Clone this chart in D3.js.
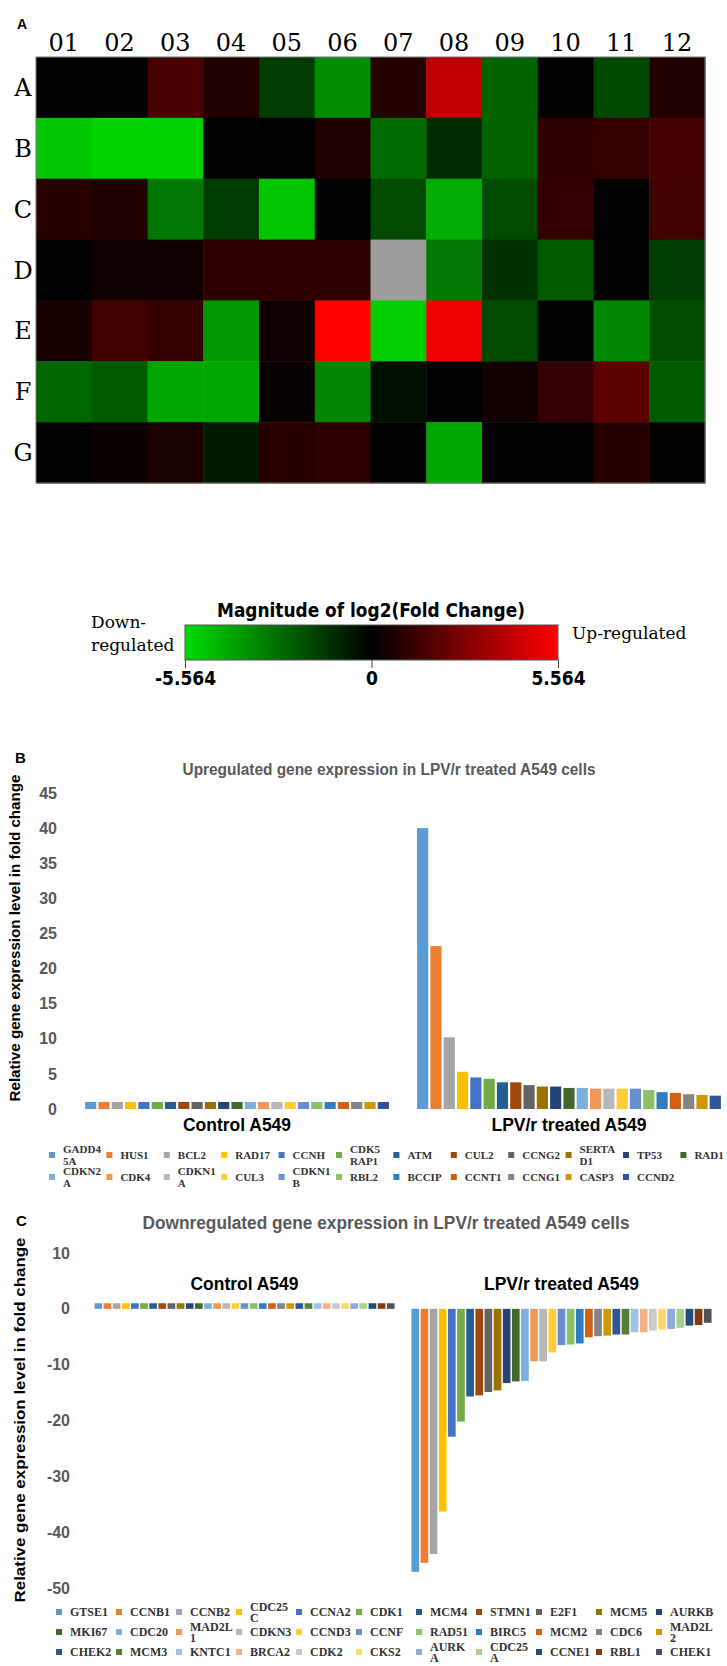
<!DOCTYPE html>
<html>
<head>
<meta charset="utf-8">
<script src="https://d3js.org/d3.v7.min.js"></script>
<style>
  html, body { margin: 0; padding: 0; background: #fff; }
  svg { display: block; }
</style>
</head>
<body>
<div id="chart"></div>
<script>
// ---- Panel A: heatmap data (log2 fold change, null = no data) ----
const heatRows = ["A", "B", "C", "D", "E", "F", "G"];
const heatCols = ["01", "02", "03", "04", "05", "06", "07", "08", "09", "10", "11", "12"];
const heatValues = [
  [0, 0, 1.6, 0.7, -1.5, -3.6, 0.8, 4.2, -2.5, 0.05, -1.8, 0.7],
  [-5.0, -5.3, -5.3, 0, 0, 0.7, -2.7, -1.1, -2.5, 1.0, 1.2, 1.5],
  [0.9, 0.7, -3.0, -1.5, -5.0, 0, -1.9, -4.4, -1.9, 1.1, 0.05, 1.4],
  [0, 0.3, 0.35, 1.0, 1.0, 1.0, null, -3.0, -1.3, -2.3, 0.05, -1.5],
  [0.5, 1.4, 1.2, -3.8, 0.3, 5.564, -5.2, 5.2, -1.9, 0, -3.4, -1.9],
  [-2.6, -2.3, -4.2, -4.2, 0.15, -3.4, -0.4, 0, 0.4, 1.1, 2.0, -2.3],
  [0, 0.2, 0.6, -0.7, 0.9, 1.0, 0, -4.2, 0, 0, 0.9, 0]
];
const colorbarTicks = [-5.564, 0, 5.564];

// ---- Panel B: upregulated genes ----
const groups = ["Control A549", "LPV/r treated A549"];
const upGenes = ["GADD45A", "HUS1", "BCL2", "RAD17", "CCNH", "CDK5RAP1", "ATM", "CUL2", "CCNG2", "SERTAD1", "TP53", "RAD1",
  "CDKN2A", "CDK4", "CDKN1A", "CUL3", "CDKN1B", "RBL2", "BCCIP", "CCNT1", "CCNG1", "CASP3", "CCND2"];
const upLegend = ["GADD4\n5A", "HUS1", "BCL2", "RAD17", "CCNH", "CDK5\nRAP1", "ATM", "CUL2", "CCNG2", "SERTA\nD1", "TP53", "RAD1",
  "CDKN2\nA", "CDK4", "CDKN1\nA", "CUL3", "CDKN1\nB", "RBL2", "BCCIP", "CCNT1", "CCNG1", "CASP3", "CCND2"];
const upControl = [1, 1, 1, 1, 1, 1, 1, 1, 1, 1, 1, 1, 1, 1, 1, 1, 1, 1, 1, 1, 1, 1, 1];
const upTreated = [40.0, 23.2, 10.2, 5.3, 4.5, 4.3, 3.8, 3.8, 3.4, 3.2, 3.2, 3.0, 3.0, 2.9, 2.9, 2.9, 2.9, 2.7, 2.4, 2.3, 2.1, 2.0, 1.9];
const upTicks = [0, 5, 10, 15, 20, 25, 30, 35, 40, 45];

// ---- Panel C: downregulated genes ----
const downGenes = ["GTSE1", "CCNB1", "CCNB2", "CDC25C", "CCNA2", "CDK1", "MCM4", "STMN1", "E2F1", "MCM5", "AURKB",
  "MKI67", "CDC20", "MAD2L1", "CDKN3", "CCND3", "CCNF", "RAD51", "BIRC5", "MCM2", "CDC6", "MAD2L2",
  "CHEK2", "MCM3", "KNTC1", "BRCA2", "CDK2", "CKS2", "AURKA", "CDC25A", "CCNE1", "RBL1", "CHEK1"];
const downLegend = ["GTSE1", "CCNB1", "CCNB2", "CDC25\nC", "CCNA2", "CDK1", "MCM4", "STMN1", "E2F1", "MCM5", "AURKB",
  "MKI67", "CDC20", "MAD2L\n1", "CDKN3", "CCND3", "CCNF", "RAD51", "BIRC5", "MCM2", "CDC6", "MAD2L\n2",
  "CHEK2", "MCM3", "KNTC1", "BRCA2", "CDK2", "CKS2", "AURK\nA", "CDC25\nA", "CCNE1", "RBL1", "CHEK1"];
const downControl = [1, 1, 1, 1, 1, 1, 1, 1, 1, 1, 1, 1, 1, 1, 1, 1, 1, 1, 1, 1, 1, 1, 1, 1, 1, 1, 1, 1, 1, 1, 1, 1, 1];
const downTreated = [-47.1, -45.5, -43.9, -36.3, -22.9, -20.2, -15.7, -15.5, -14.9, -14.6, -13.3, -13.0, -12.9, -9.4, -9.4,
  -7.8, -6.5, -6.4, -6.2, -5.1, -4.9, -4.8, -4.6, -4.6, -4.2, -4.2, -3.9, -3.7, -3.6, -3.4, -3.0, -2.9, -2.5];
const downTicks = [10, 0, -10, -20, -30, -40, -50];

// Excel-like series colours
const palette = ["#5B9BD5", "#ED7D31", "#A5A5A5", "#FFC000", "#4472C4", "#70AD47", "#255E91", "#9E480E", "#636363",
  "#997300", "#264478", "#43682B", "#7CAFDD", "#F1975A", "#B7B7B7", "#FFCD33", "#698ED0", "#8CC168", "#327DC2",
  "#D26012", "#848484", "#CC9A00", "#2F5597", "#548235", "#9DC3E6", "#F4B183", "#C9C9C9", "#FFD966", "#8FAADC",
  "#A9D18E", "#1F4E79", "#843C0C", "#525252"];

const sansNarrow = '"Liberation Sans Narrow", "Liberation Sans", Arial, sans-serif';

const svg = d3.select("#chart").append("svg")
  .attr("width", 727)
  .attr("height", 1666);

// ================= Panel A =================
svg.append("text")
  .attr("x", 17).attr("y", 29)
  .style("font-family", "Liberation Sans, Arial, sans-serif")
  .style("font-weight", "bold").style("font-size", "14px")
  .text("A");

const hx = d3.scaleBand().domain(heatCols).range([36, 705]);
const hy = d3.scaleBand().domain(heatRows).range([57, 483]);
const heatColor = d3.scaleLinear()
  .domain([-5.564, 0, 5.564])
  .range(["#00dc00", "#000000", "#ff0000"])
  .clamp(true);

const cells = [];
heatValues.forEach((row, i) => row.forEach((v, j) => cells.push({row: heatRows[i], col: heatCols[j], v: v})));

svg.append("g").selectAll("rect")
  .data(cells)
  .join("rect")
  .attr("x", d => hx(d.col))
  .attr("y", d => hy(d.row))
  .attr("width", hx.bandwidth() + 0.5)
  .attr("height", hy.bandwidth() + 0.5)
  .attr("fill", d => d.v === null ? "#9c9c9c" : heatColor(d.v));

svg.append("rect")
  .attr("x", 36).attr("y", 57)
  .attr("width", 669).attr("height", 426)
  .attr("fill", "none")
  .attr("stroke", "#777").attr("stroke-width", 1);

svg.append("g").selectAll("text")
  .data(heatCols)
  .join("text")
  .attr("x", d => hx(d) + hx.bandwidth() / 2)
  .attr("y", 51)
  .attr("text-anchor", "middle")
  .style("font-family", "DejaVu Serif, serif")
  .style("font-size", "24px")
  .text(d => d);

svg.append("g").selectAll("text")
  .data(heatRows)
  .join("text")
  .attr("x", 23)
  .attr("y", d => hy(d) + hy.bandwidth() / 2)
  .attr("dy", "0.36em")
  .attr("text-anchor", "middle")
  .style("font-family", "DejaVu Serif, serif")
  .style("font-size", "24px")
  .text(d => d);

// colour bar
const cbx = d3.scaleLinear().domain([-5.564, 5.564]).range([185, 558]);
const grad = svg.append("defs").append("linearGradient")
  .attr("id", "cbGrad").attr("x1", "0%").attr("x2", "100%");
d3.range(0, 1.0001, 0.1).forEach(t => {
  grad.append("stop")
    .attr("offset", (t * 100) + "%")
    .attr("stop-color", heatColor(-5.564 + t * 11.128));
});

svg.append("text")
  .attr("x", 371).attr("y", 617)
  .attr("text-anchor", "middle")
  .attr("textLength", 308).attr("lengthAdjust", "spacingAndGlyphs")
  .style("font-family", '"DejaVu Sans Condensed", "DejaVu Sans", sans-serif')
  .style("font-weight", "bold").style("font-size", "19px")
  .text("Magnitude of log2(Fold Change)");

svg.append("rect")
  .attr("x", 185).attr("y", 625)
  .attr("width", 373).attr("height", 35)
  .attr("fill", "url(#cbGrad)")
  .attr("stroke", "#555").attr("stroke-width", 1);

const cbAxis = svg.append("g")
  .attr("transform", "translate(0,660)")
  .call(d3.axisBottom(cbx).tickValues(colorbarTicks).tickSize(8).tickPadding(4).tickFormat(d => String(d)));
cbAxis.select(".domain").remove();
cbAxis.selectAll("line").attr("stroke", "#444");
cbAxis.selectAll("text")
  .attr("fill", "#000")
  .style("font-family", '"DejaVu Sans Condensed", "DejaVu Sans", sans-serif')
  .style("font-weight", "bold").style("font-size", "19px");

svg.append("text")
  .attr("x", 91).attr("y", 628)
  .style("font-family", "DejaVu Serif, serif").style("font-size", "17px")
  .text("Down-");
svg.append("text")
  .attr("x", 91).attr("y", 651)
  .style("font-family", "DejaVu Serif, serif").style("font-size", "17px")
  .text("regulated");
svg.append("text")
  .attr("x", 572).attr("y", 639)
  .style("font-family", "DejaVu Serif, serif").style("font-size", "17px")
  .text("Up-regulated");

// ================= Bar panels =================
function drawBarPanel(opt) {
  const g = svg.append("g");

  const y = d3.scaleLinear().domain(opt.yDomain).range(opt.yRange);
  const x0 = d3.scaleBand().domain(groups).range(opt.xRange).paddingInner(opt.groupGap);
  const x1 = d3.scaleBand().domain(opt.genes).range([0, x0.bandwidth()]).padding(0.16);

  // panel letter
  g.append("text")
    .attr("x", opt.letterPos[0]).attr("y", opt.letterPos[1])
    .style("font-family", "Liberation Sans, Arial, sans-serif")
    .style("font-weight", "bold").style("font-size", "15px")
    .text(opt.letter);

  // title
  g.append("text")
    .attr("x", opt.titlePos[0]).attr("y", opt.titlePos[1])
    .attr("text-anchor", "middle")
    .attr("textLength", opt.titleLen).attr("lengthAdjust", "spacingAndGlyphs")
    .style("font-family", sansNarrow)
    .style("font-weight", "bold").style("font-size", opt.titleSize + "px")
    .style("fill", "#595959")
    .text(opt.title);

  // y axis (labels only)
  const yAxis = g.append("g")
    .attr("transform", `translate(${opt.axisX},0)`)
    .call(d3.axisLeft(y).tickValues(opt.ticks).tickSize(0).tickPadding(0).tickFormat(d => String(d)));
  yAxis.select(".domain").remove();
  yAxis.selectAll("text")
    .attr("fill", "#595959")
    .style("font-family", sansNarrow)
    .style("font-weight", "bold").style("font-size", "16px");

  g.append("text")
    .attr("transform", `translate(${opt.yTitlePos[0]},${opt.yTitlePos[1]}) rotate(-90)`)
    .attr("text-anchor", "middle")
    .attr("dy", "0.35em")
    .attr("textLength", opt.yTitleLen).attr("lengthAdjust", "spacingAndGlyphs")
    .style("font-family", "Liberation Sans, Arial, sans-serif")
    .style("font-weight", "bold").style("font-size", "14px")
    .text("Relative gene expression level in fold change");

  // bars
  const bars = [];
  opt.genes.forEach((gene, i) => {
    bars.push({group: groups[0], gene: gene, v: opt.control[i], c: palette[i]});
    bars.push({group: groups[1], gene: gene, v: opt.treated[i], c: palette[i]});
  });
  g.append("g").selectAll("rect")
    .data(bars)
    .join("rect")
    .attr("x", d => x0(d.group) + x1(d.gene))
    .attr("y", d => y(Math.max(0, d.v)))
    .attr("width", x1.bandwidth())
    .attr("height", d => Math.abs(y(d.v) - y(0)))
    .attr("fill", d => d.c);

  // group labels
  g.append("g").selectAll("text")
    .data(groups)
    .join("text")
    .attr("x", d => x0(d) + x0.bandwidth() / 2)
    .attr("y", opt.groupLabelY)
    .attr("text-anchor", "middle")
    .attr("textLength", d => d === groups[0] ? 108 : 155)
    .attr("lengthAdjust", "spacingAndGlyphs")
    .style("font-family", sansNarrow)
    .style("font-weight", "bold").style("font-size", "18px")
    .text(d => d);

  // legend
  const lg = opt.legend;
  const items = g.append("g").selectAll("g")
    .data(opt.labels)
    .join("g")
    .attr("transform", (d, i) => `translate(${lg.x0 + (i % lg.perRow) * lg.step},${lg.y0 + Math.floor(i / lg.perRow) * lg.rowStep})`);
  items.append("rect")
    .attr("x", 0).attr("y", -3)
    .attr("width", 6).attr("height", 6)
    .attr("fill", (d, i) => palette[i]);
  items.append("text")
    .style("font-family", "Liberation Serif, Times New Roman, serif")
    .style("font-weight", "bold")
    .style("font-size", lg.fontSize + "px")
    .style("fill", "#333")
    .each(function(d) {
      const lines = d.split("\n");
      const t = d3.select(this);
      lines.forEach((line, k) => {
        t.append("tspan")
          .attr("x", 14)
          .attr("y", (k - (lines.length - 1) / 2) * lg.lineH)
          .attr("dy", "0.35em")
          .text(line);
      });
    });
}

drawBarPanel({
  letter: "B", letterPos: [15, 763],
  title: "Upregulated gene expression in LPV/r treated A549 cells",
  titlePos: [389, 775], titleLen: 413, titleSize: 16,
  yDomain: [0, 45], yRange: [1109, 793], ticks: upTicks, axisX: 57,
  yTitlePos: [15, 938], yTitleLen: 327,
  xRange: [83, 723], groupGap: 0.072,
  genes: upGenes, labels: upLegend, control: upControl, treated: upTreated,
  groupLabelY: 1131,
  legend: {x0: 49, step: 57.4, perRow: 12, y0: 1155, rowStep: 22, fontSize: 11, lineH: 12}
});

drawBarPanel({
  letter: "C", letterPos: [16, 1226],
  title: "Downregulated gene expression in LPV/r treated A549 cells",
  titlePos: [386, 1229], titleLen: 487, titleSize: 18,
  yDomain: [-50, 10], yRange: [1588, 1253], ticks: downTicks, axisX: 70,
  yTitlePos: [20, 1420], yTitleLen: 365,
  xRange: [93, 713], groupGap: 0.044,
  genes: downGenes, labels: downLegend, control: downControl, treated: downTreated,
  groupLabelY: 1290,
  legend: {x0: 56, step: 60, perRow: 11, y0: 1612, rowStep: 20, fontSize: 12, lineH: 11}
});
</script>
</body>
</html>
